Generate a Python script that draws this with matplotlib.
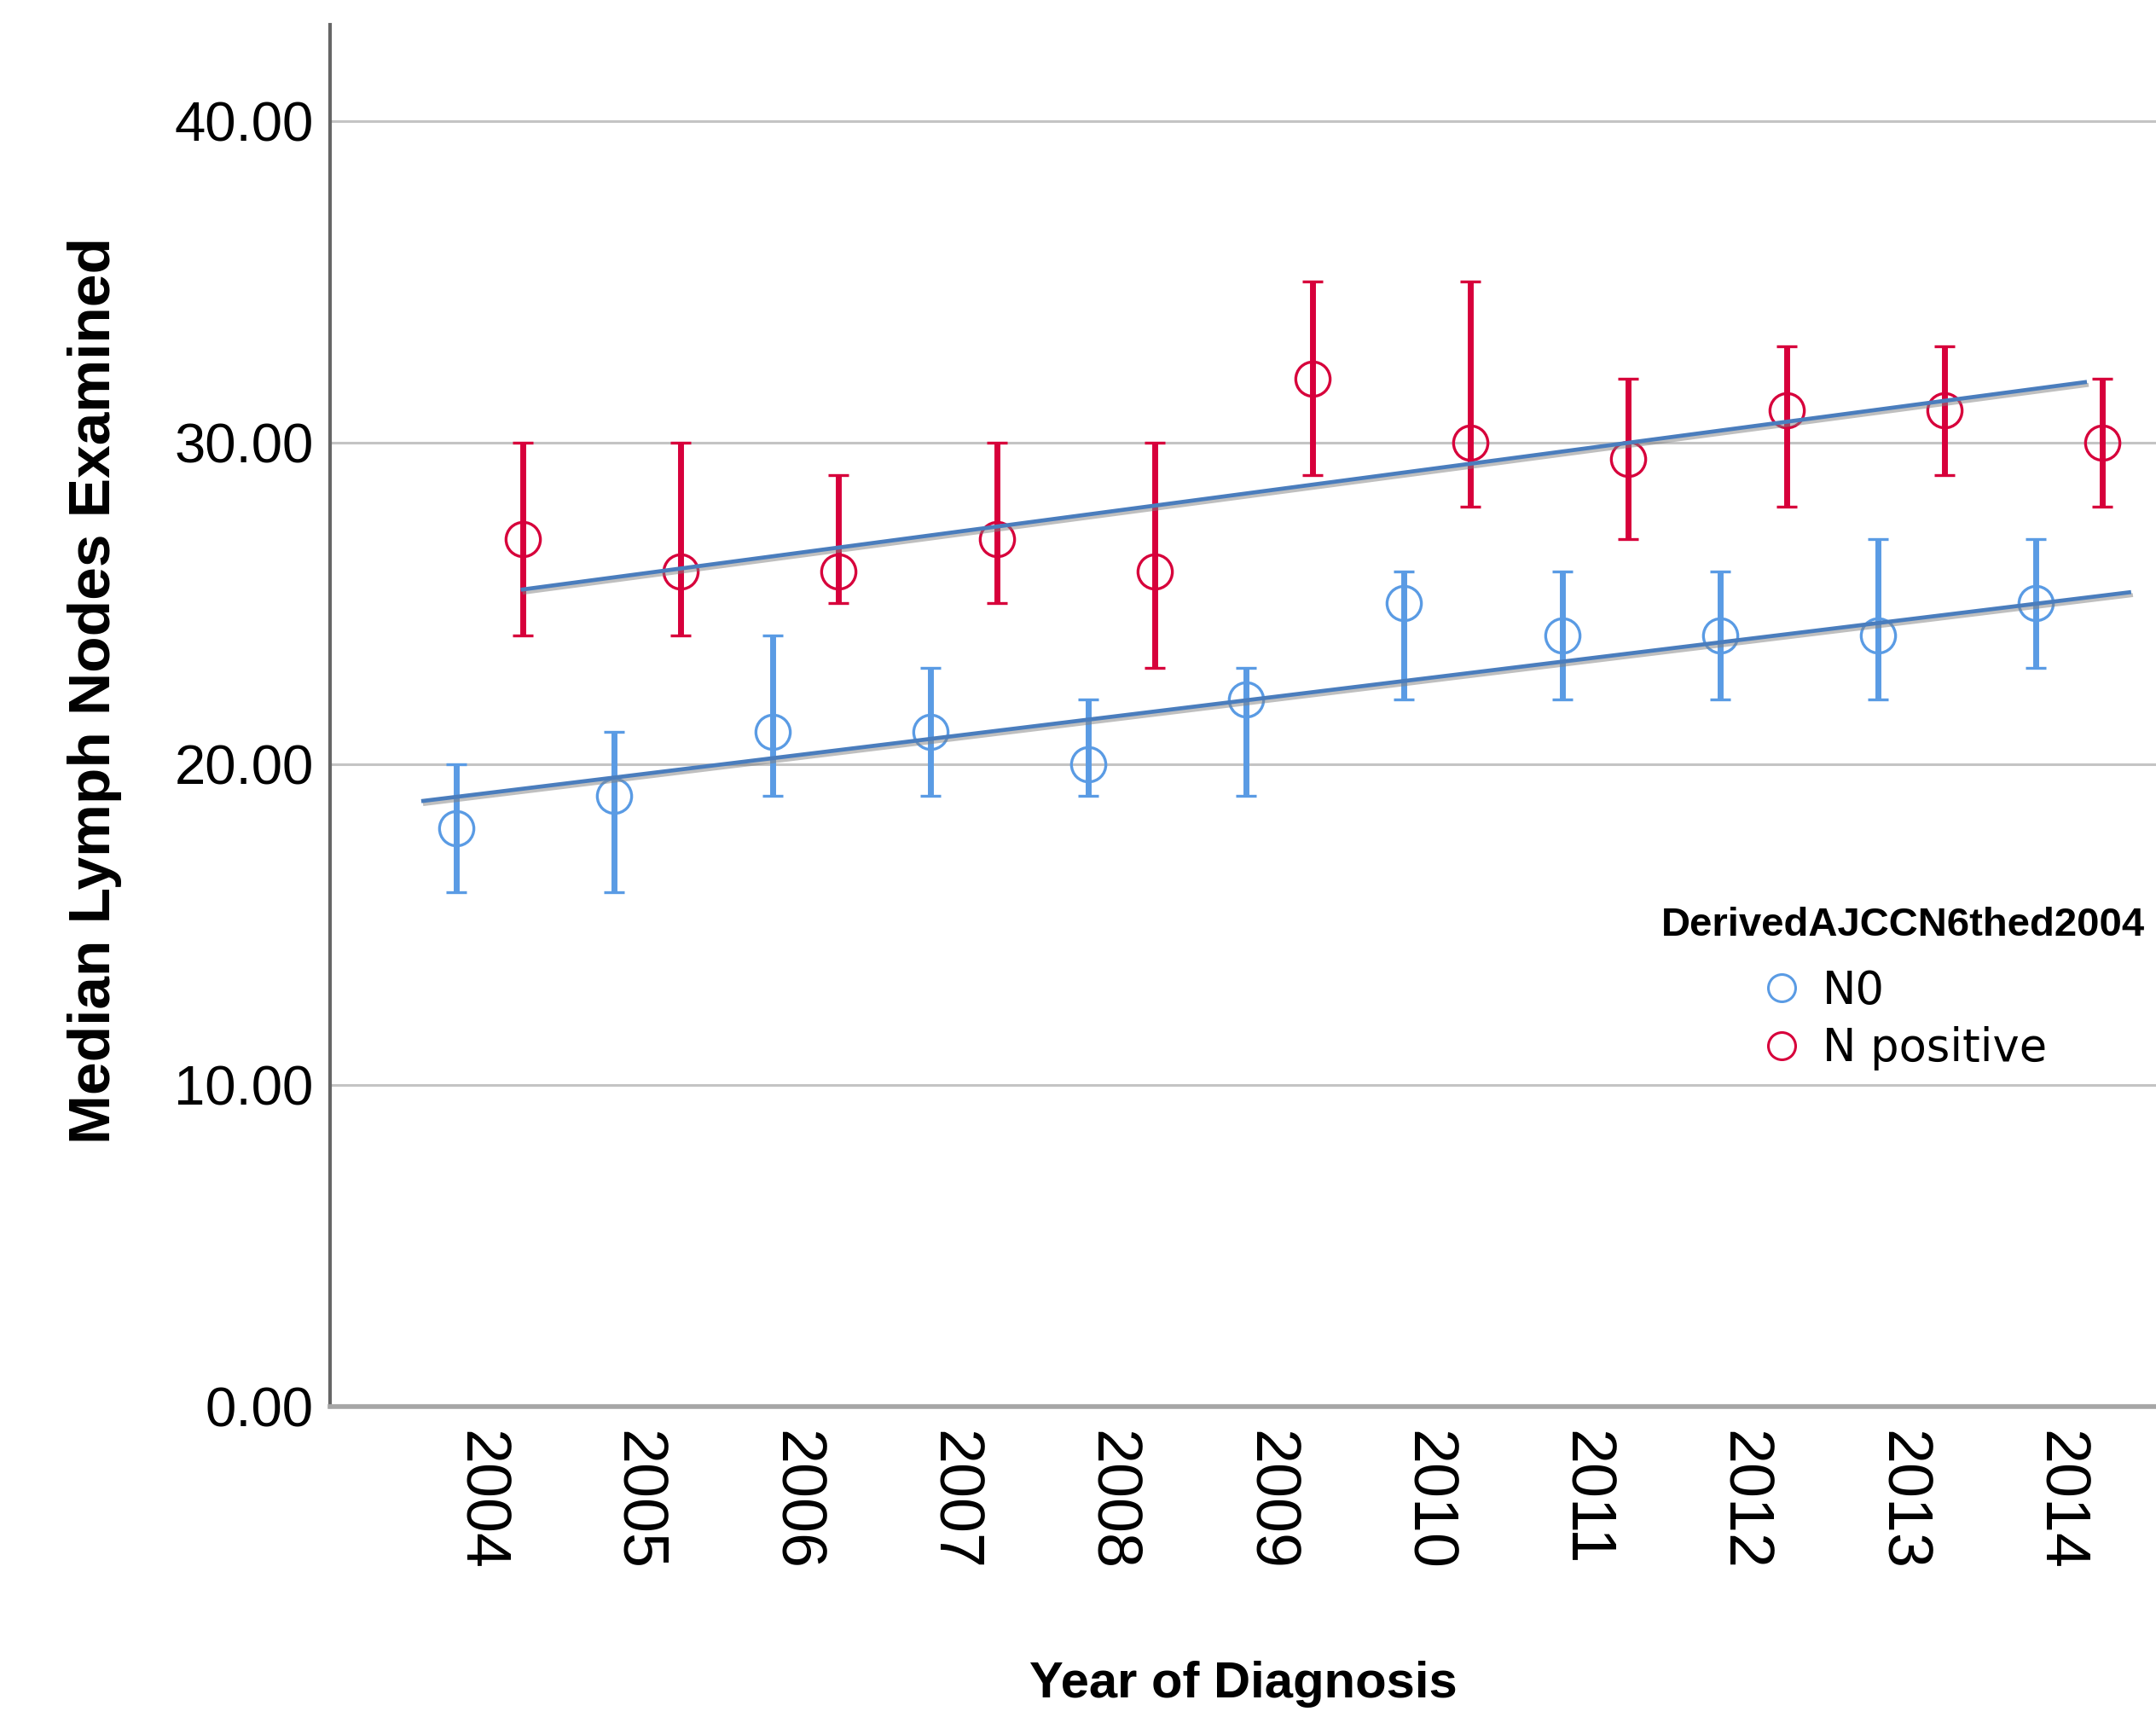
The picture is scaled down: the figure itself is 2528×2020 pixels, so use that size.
import numpy as np
import matplotlib
matplotlib.use('Agg')
import matplotlib.pyplot as plt
import matplotlib.patheffects as pe
import matplotlib.transforms as mtransforms
from matplotlib.lines import Line2D

plt.rcParams['font.family'] = ['Liberation Sans', 'DejaVu Sans']

# -------------------- data --------------------
years = ['2004', '2005', '2006', '2007', '2008', '2009',
         '2010', '2011', '2012', '2013', '2014']

# N0 group: median and 95% CI
n0_med = [18, 19, 21, 21, 20, 22, 25, 24, 24, 24, 25]
n0_lo = [16, 16, 19, 19, 19, 19, 22, 22, 22, 22, 23]
n0_hi = [20, 21, 24, 23, 22, 23, 26, 26, 26, 27, 27]

# N positive group
np_med = [27, 26, 26, 27, 26, 32, 30, 29.5, 31, 31, 30]
np_lo = [24, 24, 25, 25, 23, 29, 28, 27, 28, 29, 28]
np_hi = [30, 30, 29, 30, 30, 35, 35, 32, 33, 33, 32]

# fit lines (category position, value) at both ends
fit_n0_x = [-0.42, 10.38]
fit_n0_y = [18.85, 25.34]
fit_np_x = [0.21, 10.10]
fit_np_y = [25.43, 31.88]

legend_title = 'DerivedAJCCN6thed2004'
group_names = ['N0', 'N positive']

# -------------------- styling --------------------
c_n0 = '#5a9be4'
c_np = '#d7003b'
c_fit = '#4a7dbd'
dodge = 0.21

fig = plt.figure(figsize=(25.28, 20.2), dpi=100)
ax = fig.add_axes([0.1531, 0.1836, 0.8469, 0.802])

x = np.arange(len(years))

for offs, med, lo, hi, col in [(-dodge, n0_med, n0_lo, n0_hi, c_n0),
                               (dodge, np_med, np_lo, np_hi, c_np)]:
    med = np.array(med, dtype=float)
    err = [med - np.array(lo), np.array(hi) - med]
    ax.errorbar(x + offs, med, yerr=err, fmt='o', mfc='none', mec=col,
                ms=29, mew=2.4, ecolor=col, elinewidth=5,
                capsize=8.5, capthick=6, zorder=3)

shadow = [pe.SimpleLineShadow(offset=(1.5, -2.5), shadow_color='gray', alpha=0.5),
          pe.Normal()]
ax.plot(fit_n0_x, fit_n0_y, color=c_fit, lw=3.4, zorder=4, path_effects=shadow)
ax.plot(fit_np_x, fit_np_y, color=c_fit, lw=3.4, zorder=4, path_effects=shadow)

ax.set_xlim(-1.01, 10.55)
ax.set_ylim(0, 43)
ax.set_yticks([0, 10, 20, 30, 40])
ax.set_yticklabels(['%.2f' % v for v in [0, 10, 20, 30, 40]], fontsize=47)
ax.set_xticks(x)
ax.set_xticklabels(years, rotation=-90, fontsize=53)
ax.tick_params(axis='both', length=0)
ax.tick_params(axis='x', pad=20)
ax.tick_params(axis='y', pad=14)
# year labels sit a little left of the category centre
shift = mtransforms.ScaledTranslation(-12 / 100, 0, fig.dpi_scale_trans)
for lab in ax.get_xticklabels():
    lab.set_transform(lab.get_transform() + shift)

ax.yaxis.grid(True, color='#c4c4c4', lw=2.2)
ax.set_axisbelow(True)

for s in ['top', 'right']:
    ax.spines[s].set_visible(False)
ax.spines['left'].set_color('#666666')
ax.spines['left'].set_linewidth(3)
ax.spines['bottom'].set_color('#a6a6a6')
ax.spines['bottom'].set_linewidth(4)

ax.set_ylabel('Median Lymph Nodes Examined', fontsize=50, fontweight='bold', va='center')
ax.yaxis.set_label_coords(-0.129, 0.518)
ax.set_xlabel('Year of Diagnosis', fontsize=43, fontweight='bold', va='center')
ax.xaxis.set_label_coords(0.5, -0.201)

handles = [Line2D([], [], marker='o', ls='none', mfc='none', mec=c, ms=23, mew=2.2)
           for c in [c_n0, c_np]]
leg = ax.legend(handles, group_names, title=legend_title, loc='upper right',
                bbox_to_anchor=(0.994, 0.362), frameon=False,
                prop={'family': 'DejaVu Sans', 'size': 38},
                title_fontproperties={'family': 'Liberation Sans',
                                      'weight': 'bold', 'size': 34},
                borderpad=0, borderaxespad=0, labelspacing=0.29,
                handlelength=1.0, handletextpad=0.4)
leg._legend_box.sep = 21  # gap between title and entries

fig.savefig('out.png', dpi=100)
